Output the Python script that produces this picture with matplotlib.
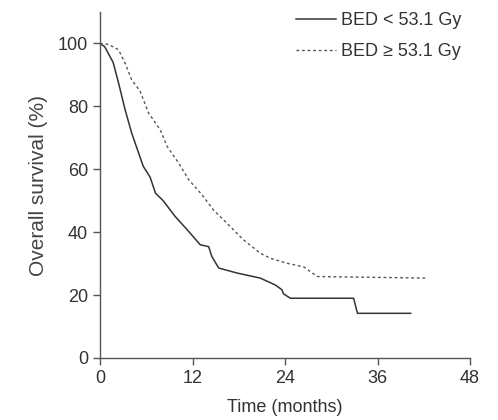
import matplotlib
matplotlib.use("Agg")
import matplotlib.pyplot as plt

# survival curves (months, %)
t_low = [0, 0.6, 1.7, 2.4, 3.25, 4.1, 5.6, 6.5, 7.2, 8.2, 9.75, 11.3, 13, 14.1, 14.5,
         15.4, 17.8, 20.8, 22.75, 23.6, 23.8, 24.7, 32.9, 33.4, 40.3]
s_low = [100, 99, 94, 87.5, 79, 71.6, 61, 57.5, 52.4, 50, 45, 40.8, 36, 35.4, 32.3,
         28.6, 27, 25.4, 23.2, 21.7, 20.4, 19, 19, 14.2, 14.2]

t_high = [0, 1.1, 2.4, 3.25, 4.1, 5.2, 6.3, 7.8, 8.7, 10.2, 11.5, 13.2, 14.7, 16.9,
          18.6, 20.8, 22.1, 24.3, 26.4, 28.2, 42.5]
s_high = [100, 99.7, 98, 93.8, 88.5, 84.8, 77.9, 72.6, 67.3, 62, 56.7, 52, 47.1, 41.8,
          37.6, 33.3, 31.7, 30.1, 29, 25.9, 25.4]

x_ticks = [0, 12, 24, 36, 48]
y_ticks = [0, 20, 40, 60, 80, 100]

plt.rcParams['font.family'] = ['Liberation Sans', 'DejaVu Sans']
ink = '#333333'

fig = plt.figure(figsize=(4.98, 4.2), dpi=100)
ax = fig.add_axes([100/498, 1 - 358/420, 370/498, 346/420])

ax.plot(t_low, s_low, color=ink, lw=1.1, label='BED < 53.1 Gy')
ax.plot(t_high, s_high, color='#555555', lw=1.0, dashes=(2, 2), label='BED \u2265 53.1 Gy')

ax.set_xlim(0, 48)
ax.set_ylim(0, 110)
ax.set_xticks(x_ticks)
ax.set_yticks(y_ticks)
for side in ['top', 'right']:
    ax.spines[side].set_visible(False)
for side in ['left', 'bottom']:
    ax.spines[side].set_color('#555555')
    ax.spines[side].set_linewidth(1.0)
ax.tick_params(colors='#555555', labelcolor=ink, labelsize=13, length=5, width=1)
ax.set_xlabel('Time (months)', fontsize=13, color=ink, labelpad=9)
ax.set_ylabel('Overall survival (%)', fontsize=15, color='#444444', labelpad=7)

ax.legend(loc='upper left', bbox_to_anchor=(296/498, 1 - 12/420),
          bbox_transform=fig.transFigure, frameon=False, fontsize=13,
          handlelength=2.2, handletextpad=0.3, borderpad=0, borderaxespad=0,
          labelspacing=0.8, labelcolor=ink)

fig.savefig('out.png', dpi=100)
